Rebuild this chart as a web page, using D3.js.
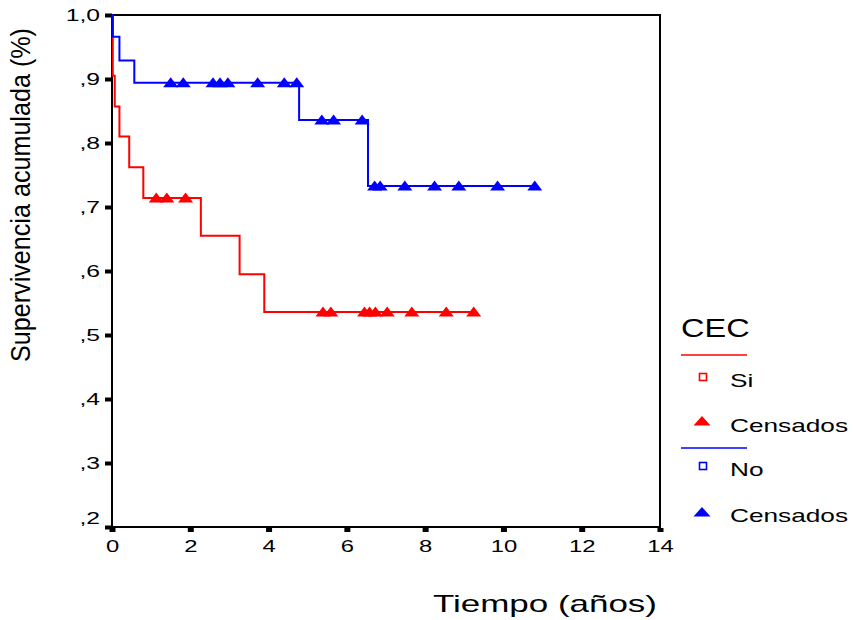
<!DOCTYPE html>
<html>
<head>
<meta charset="utf-8">
<script src="https://cdn.jsdelivr.net/npm/d3@7"></script>
<style>
  body { margin: 0; background: #fff; }
  text { font-family: "Liberation Sans", Arial, sans-serif; fill: #000; }
</style>
</head>
<body>
<svg id="chart" width="853" height="620"></svg>
<script>
// Kaplan–Meier curves by CEC group (time in years, cumulative survival)
const siStepTimes = [0, 0.02, 0.07, 0.19, 0.44, 0.80, 2.27, 3.26, 3.89];
const siStepSurv  = [1.0, 0.905, 0.857, 0.810, 0.762, 0.714, 0.655, 0.595, 0.536];
const siEndTime   = 9.24;
const siCensored  = [1.13, 1.40, 1.88, 5.39, 5.59, 6.45, 6.58, 6.73, 7.03, 7.66, 8.54, 9.24];

const noStepTimes = [0, 0.02, 0.19, 0.57, 4.78, 6.54];
const noStepSurv  = [1.0, 0.966, 0.929, 0.894, 0.836, 0.733];
const noEndTime   = 10.80;
const noCensored  = [1.50, 1.82, 2.58, 2.76, 2.96, 3.72, 4.40, 4.72, 5.36, 5.66, 6.39,
                     6.71, 6.85, 7.48, 8.24, 8.86, 9.85, 10.80];

const xTicks = [0, 2, 4, 6, 8, 10, 12, 14];
const yTicks = [0.2, 0.3, 0.4, 0.5, 0.6, 0.7, 0.8, 0.9, 1.0];
const yTickLabels = [",2", ",3", ",4", ",5", ",6", ",7", ",8", ",9", "1,0"];

const groups = [
  { name: "Si", color: "#ff0000", times: siStepTimes, surv: siStepSurv, end: siEndTime, cens: siCensored },
  { name: "No", color: "#0000ff", times: noStepTimes, surv: noStepSurv, end: noEndTime, cens: noCensored }
];

const svg = d3.select("#chart");
const plotL = 112, plotR = 660, plotT = 15, plotB = 527;

const x = d3.scaleLinear().domain([0, 14]).range([plotL, plotR]);
const y = d3.scaleLinear().domain([0.2, 1.0]).range([plotB, plotT]);

svg.append("rect").attr("width", 853).attr("height", 620).attr("fill", "#fff");

// widen glyphs horizontally by a factor, keeping the anchor
function widen(sel, k) {
  sel.each(function () {
    const len = this.getComputedTextLength();
    d3.select(this).attr("textLength", len * k).attr("lengthAdjust", "spacingAndGlyphs");
  });
}

// axes
const xAxis = svg.append("g")
  .attr("transform", `translate(0,${plotB})`)
  .call(d3.axisBottom(x).tickValues(xTicks).tickSize(5).tickPadding(8).tickFormat(d3.format("d")));
xAxis.select(".domain").remove();
xAxis.selectAll(".tick line").attr("stroke", "#000").attr("stroke-width", 6).attr("y1", 1);
xAxis.selectAll(".tick text").attr("font-size", 17).attr("fill", "#000")
  .attr("font-family", "Liberation Sans, Arial, sans-serif");
widen(xAxis.selectAll(".tick text"), 1.4);

const yAxis = svg.append("g")
  .attr("transform", `translate(${plotL},0)`)
  .call(d3.axisLeft(y).tickValues(yTicks).tickSize(7).tickPadding(5)
    .tickFormat((d, i) => yTickLabels[i]));
yAxis.select(".domain").remove();
yAxis.selectAll(".tick line").attr("stroke", "#000").attr("stroke-width", 4);
yAxis.selectAll(".tick text").attr("font-size", 17).attr("fill", "#000")
  .attr("font-family", "Liberation Sans, Arial, sans-serif")
  .attr("dy", (d, i) => i === 0 ? "-0.2em" : "0.32em");
widen(yAxis.selectAll(".tick text"), 1.45);

// plot frame
svg.append("rect")
  .attr("x", plotL).attr("y", plotT)
  .attr("width", plotR - plotL).attr("height", plotB - plotT)
  .attr("fill", "none").attr("stroke", "#000").attr("stroke-width", 2);

// survival step curves
const line = d3.line().x(d => x(d[0])).y(d => y(d[1])).curve(d3.curveStepAfter);
const triangle = "M0,-5.5L7.5,4.5L-7.5,4.5Z";

function survivalAt(g, t) {
  let s = g.surv[0];
  g.times.forEach((tt, i) => { if (tt <= t) s = g.surv[i]; });
  return s;
}

groups.forEach(g => {
  const pts = g.times.map((t, i) => [t, g.surv[i]]);
  pts.push([g.end, g.surv[g.surv.length - 1]]);
  svg.append("path")
    .attr("d", line(pts))
    .attr("fill", "none").attr("stroke", g.color).attr("stroke-width", 2);
  svg.append("g").selectAll("path")
    .data(g.cens)
    .join("path")
    .attr("d", triangle)
    .attr("transform", t => `translate(${x(t)},${y(survivalAt(g, t))})`)
    .attr("fill", g.color);
});

// axis titles
svg.append("text")
  .attr("x", 433).attr("y", 612)
  .attr("font-size", 24)
  .attr("textLength", 224).attr("lengthAdjust", "spacingAndGlyphs")
  .text("Tiempo (años)");

svg.append("text")
  .attr("transform", "translate(30,195) rotate(-90)")
  .attr("text-anchor", "middle")
  .attr("font-size", 27)
  .attr("textLength", 334).attr("lengthAdjust", "spacingAndGlyphs")
  .text("Supervivencia acumulada (%)");

// legend
const lg = svg.append("g");
const cec = lg.append("text").attr("x", 681).attr("y", 337).attr("font-size", 25).text("CEC");
widen(cec, 1.3);

const legendRows = [
  { g: groups[0], lineY: 355, squareY: 377, labelY: 387, triY: 421, censY: 432 },
  { g: groups[1], lineY: 448, squareY: 466, labelY: 476, triY: 512, censY: 522 }
];
legendRows.forEach(r => {
  lg.append("line")
    .attr("x1", 681).attr("x2", 747).attr("y1", r.lineY).attr("y2", r.lineY)
    .attr("stroke", r.g.color).attr("stroke-width", 1.5);
  lg.append("rect")
    .attr("x", 699.5).attr("y", r.squareY - 3.5).attr("width", 7).attr("height", 7)
    .attr("fill", "#fff").attr("stroke", r.g.color).attr("stroke-width", 1.6);
  const lab = lg.append("text").attr("x", 730).attr("y", r.labelY).attr("font-size", 19).text(r.g.name);
  widen(lab, 1.38);
  lg.append("path")
    .attr("d", "M0,-5L8.5,4.5L-8.5,4.5Z")
    .attr("transform", `translate(702,${r.triY})`)
    .attr("fill", r.g.color);
  const cl = lg.append("text").attr("x", 730).attr("y", r.censY).attr("font-size", 19).text("Censados");
  widen(cl, 1.38);
});
</script>
</body>
</html>
